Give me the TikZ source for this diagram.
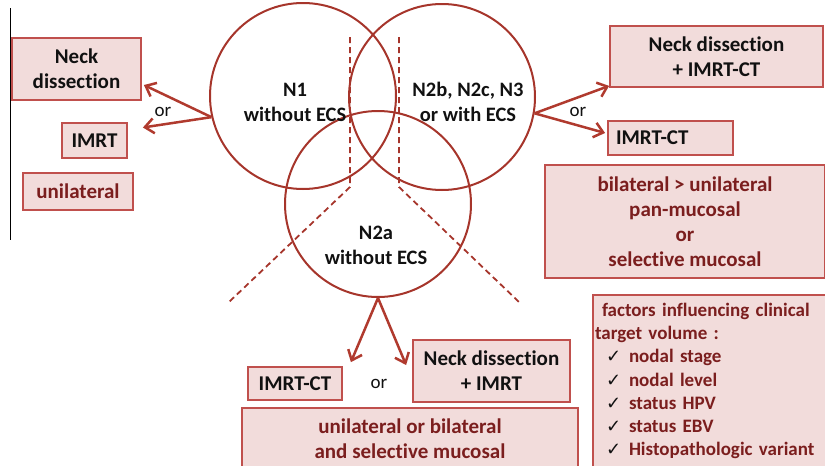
\documentclass[tikz,border=0pt]{standalone}
\usepackage{fontspec}
\setmainfont{Carlito}[Ligatures=NoCommon]
\newfontfamily\dvs{DejaVu Sans}
\usetikzlibrary{arrows.meta}
\definecolor{circ}{HTML}{A6352B}
\definecolor{boxfill}{HTML}{F2DCDB}
\definecolor{boxline}{HTML}{C0504D}
\definecolor{maroon}{HTML}{7B1E1E}
\definecolor{arr}{HTML}{B03A2E}
\definecolor{txt}{HTML}{111111}
\newcommand\ckitem[1]{\hspace*{11pt}\makebox[23pt][l]{\textcolor{txt}{\dvs\mdseries\fontsize{18}{20}\selectfont ✓}}#1}
\begin{document}
\begin{tikzpicture}[x=1pt,y=-1pt,
 ring/.style={circle,draw=circ,line width=2pt,minimum size=186pt,inner sep=0pt},
 lab/.style={font=\fontsize{20.5}{25}\selectfont\bfseries,text=txt,align=center},
 box/.style={draw=boxline,fill=boxfill,line width=1.8pt,inner sep=0pt,align=center,font=\fontsize{21}{25}\selectfont\bfseries,text=txt},
 mbox/.style={box,text=maroon},
 ortxt/.style={font=\fontsize{19}{22}\selectfont,text=txt},
 conn/.style={draw=arr,line width=2.5pt,-{Straight Barb[length=9pt,width=15pt]}},
 dsh/.style={draw=circ,line width=1.8pt,dash pattern=on 6pt off 4pt}
]
\useasboundingbox (0,0) rectangle (825,466);
% frame line on the left
\coordinate (fl1) at (10,8);
\coordinate (fl2) at (10,240);
\draw[line width=1pt,black] (fl1) -- (fl2);

% circles
\node[ring] (c1) at (303,96) {};
\node[ring] (c2) at (442,97) {};
\node[ring] (c3) at (378,204) {};
\node[lab] (t1) at (295,102) {N1\\without ECS};
\node[lab] (t2) at (468,102) {N2b, N2c, N3\\or with ECS};
\node[lab] (t3) at (376,245) {N2a\\without ECS};

% dashed separators
\coordinate (d1a) at (350,37);
\coordinate (d1b) at (350,187);
\coordinate (d1c) at (229,302);
\coordinate (d2a) at (399,37);
\coordinate (d2b) at (399,187);
\coordinate (d2c) at (519,302);
\draw[dsh] (d1a) -- (d1b) -- (d1c);
\draw[dsh] (d2a) -- (d2b) -- (d2c);

% left boxes
\node[box,minimum width=129pt,minimum height=62pt] (nd1) at (76.5,69) {Neck\\dissection};
\node[box,minimum width=65pt,minimum height=35pt] (im1) at (94.5,140.5) {IMRT};
\node[mbox,minimum width=110pt,minimum height=37pt] (un1) at (78,191.5) {unilateral};
\node[ortxt] (or1) at (163,112) {or};
\draw[conn] (c1.193) -- ([yshift=-16pt,xshift=2pt]nd1.east);
\draw[conn] (c1.193) -- ([xshift=15pt,yshift=13pt]im1.east);

% right boxes
\node[box,minimum width=213pt,minimum height=61pt] (nd2) at (716.5,56.5) {Neck dissection\\+ IMRT-CT};
\node[box,minimum width=125pt,minimum height=34pt,text width=109pt,align=left] (im2) at (670.5,138) {IMRT-CT};
\node[mbox,minimum width=280pt,minimum height=113pt] (bil) at (685,221.5) {bilateral > unilateral\\pan-mucosal\\or\\selective mucosal};
\node[ortxt] (or2) at (578,112) {or};
\draw[conn] (c2.-10) -- ([yshift=2pt]nd2.south west);
\draw[conn] (c2.-10) -- ([xshift=-2pt,yshift=5pt]im2.west);

% bottom boxes
\node[box,minimum width=94pt,minimum height=33pt] (im3) at (295,383.5) {IMRT-CT};
\node[box,minimum width=157pt,minimum height=62pt] (nd3) at (491.5,371) {Neck dissection\\+ IMRT};
\node[mbox,minimum width=336pt,minimum height=62pt] (uob) at (410,439) {unilateral or bilateral\\and selective mucosal};
\node[ortxt] (or3) at (379,384) {or};
\draw[conn] (c3.south) -- ([xshift=8pt,yshift=4pt]im3.north east);
\draw[conn] (c3.south) -- ([xshift=-6pt,yshift=6pt]nd3.west);

% factors box
\node[mbox,minimum width=233pt,minimum height=172pt,text width=229pt,align=left,
  font=\fontsize{19}{23.2}\selectfont\bfseries] (fac) at (709.5,381)
 {\hspace*{7pt}factors influencing clinical\\
  target volume :\\
  \ckitem{nodal stage}\\
  \ckitem{nodal level}\\
  \ckitem{status HPV}\\
  \ckitem{status EBV}\\
  \ckitem{Histopathologic variant}};
\end{tikzpicture}
\end{document}
